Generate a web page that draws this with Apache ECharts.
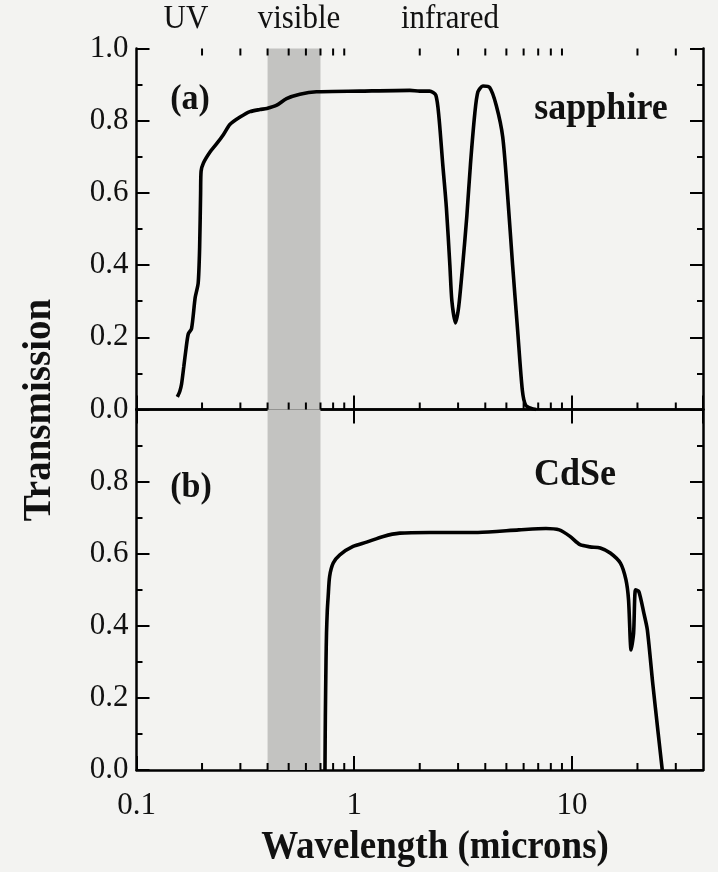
<!DOCTYPE html>
<html>
<head>
<meta charset="utf-8">
<script src="https://cdn.jsdelivr.net/npm/echarts@6/dist/echarts.min.js"></script>
<style>
html,body{margin:0;padding:0;background:#f3f3f1;}
#chart{width:718px;height:872px;}
</style>
</head>
<body>
<div id="chart"></div>
<script>
// ---- data ----
const sapphire = [
  [0.154,0.035],[0.158,0.05],[0.161,0.07],[0.165,0.12],[0.169,0.17],[0.173,0.21],
  [0.179,0.224],[0.186,0.31],[0.192,0.35],[0.195,0.45],[0.197,0.60],[0.198,0.66],
  [0.203,0.683],[0.218,0.714],[0.234,0.737],[0.251,0.762],[0.269,0.79],[0.299,0.81],
  [0.332,0.825],[0.369,0.831],[0.397,0.834],[0.441,0.843],[0.489,0.861],[0.563,0.873],
  [0.671,0.880],[1.06,0.882],[1.8,0.884],[2.0,0.882],[2.22,0.882],[2.37,0.871],
  [2.45,0.81],[2.55,0.68],[2.65,0.56],[2.75,0.40],[2.81,0.30],[2.92,0.24],[3.02,0.285],
  [3.15,0.40],[3.29,0.535],[3.42,0.68],[3.58,0.82],[3.70,0.88],[3.90,0.896],[4.19,0.892],
  [4.49,0.843],[4.81,0.755],[5.07,0.59],[5.34,0.40],[5.63,0.22],[5.92,0.053],[6.13,0.012],
  [6.5,0.003],[6.85,0]
];
const cdse = [
  [0.734,0],[0.737,0.15],[0.742,0.30],[0.746,0.38],[0.752,0.44],[0.759,0.48],[0.771,0.537],
  [0.801,0.574],[0.859,0.597],[0.988,0.62],[1.14,0.632],[1.36,0.648],[1.62,0.657],
  [2.22,0.659],[3.7,0.659],[5.7,0.666],[7.6,0.670],[8.75,0.666],[9.8,0.648],[10.9,0.625],
  [12.1,0.619],[13.5,0.616],[15.0,0.602],[16.7,0.574],[17.7,0.528],[18.2,0.472],[18.7,0.333],
  [19.2,0.38],[19.6,0.5],[20.3,0.495],[21.4,0.435],[22.2,0.389],[23.5,0.241],[24.9,0.102],[26,0]
];
const visibleBand = [0.4, 0.7];
const xMin = 0.1, xMax = 40;
const minorXTicks = [0.2,0.3,0.4,0.5,0.6,0.7,0.8,0.9,2,3,4,5,6,7,8,9,20,30];
const regionLabels = ['UV','visible','infrared'];
const panelLabels = ['(a)','(b)'];
const materialLabels = ['sapphire','CdSe'];
const xTitle = 'Wavelength (microns)';
const yTitle = 'Transmission';

// ---- chart ----
const FONT = '"Liberation Serif","Times New Roman",serif';
const chart = echarts.init(document.getElementById('chart'));
const L = 136.5, R = 15;
const axisLine = {show:true, lineStyle:{color:'#000', width:2.5}};

function xAx(grid, pos, opts){
  return Object.assign({
    type:'log', gridIndex:grid, position:pos, min:xMin, max:xMax, logBase:10,
    axisLine: axisLine,
    axisTick:{show:true, inside:true, length:14, lineStyle:{color:'#000', width:2}},
    axisLabel:{show:false},
    splitLine:{show:false}
  }, opts||{});
}
function yAx(grid, pos, opts){
  return Object.assign({
    type:'value', gridIndex:grid, position:pos, min:0, max:1, interval:0.2,
    axisLine: axisLine,
    axisTick:{show:true, inside:true, length:13, lineStyle:{color:'#000', width:2}},
    minorTick:{show:true, splitNumber:2, length:6, lineStyle:{color:'#000', width:2}},
    axisLabel:{show:false},
    splitLine:{show:false}
  }, opts||{});
}
const yLabel = {show:true, fontFamily:FONT, fontSize:31, color:'#111', margin:8,
  formatter: v => v.toFixed(1)};

function minorTickSeries(xi, yi, both){
  return {
    type:'custom', xAxisIndex:xi, yAxisIndex:yi, silent:true, z:5,
    data: minorXTicks.map(v=>[v]),
    renderItem: function(params, api){
      const p = api.coord([api.value(0), 0]);
      const cs = params.coordSys;
      const children = [{type:'line', shape:{x1:p[0], y1:cs.y+cs.height, x2:p[0], y2:cs.y+cs.height-7},
        style:{stroke:'#000', lineWidth:2}}];
      if (both) children.push({type:'line', shape:{x1:p[0], y1:cs.y, x2:p[0], y2:cs.y+7},
        style:{stroke:'#000', lineWidth:2}});
      return {type:'group', children};
    }
  };
}
const band = {
  silent:true,
  itemStyle:{color:'#c3c3c1'},
  data:[[{xAxis:visibleBand[0]},{xAxis:visibleBand[1]}]]
};

function txt(text, x, y, size, bold, sy, rot){
  return {type:'text', x:x, y:y, rotation:rot||0, scaleY:sy||1, z:100,
    style:{text:text, x:0, y:0, textAlign:'center', textVerticalAlign:'middle',
      fontFamily:FONT, fontSize:size, fontWeight:bold?'bold':'normal', fill:'#111'}};
}

chart.setOption({
  backgroundColor:'#f3f3f1',
  animation:false,
  grid:[
    {left:L, right:R, top:48.5, height:361},
    {left:L, right:R, top:409.5, height:360.5}
  ],
  xAxis:[
    xAx(0,'bottom'),
    xAx(0,'top'),
    xAx(1,'bottom',{axisLabel:{show:true, fontFamily:FONT, fontSize:31, color:'#111', margin:20,
      showMaxLabel:false, formatter: v => (v===0.1?'0.1':String(v))}})
  ],
  yAxis:[
    yAx(0,'left',{axisLabel:yLabel}),
    yAx(0,'right'),
    yAx(1,'left',{axisLabel:Object.assign({}, yLabel, {showMaxLabel:false})}),
    yAx(1,'right')
  ],
  series:[
    {type:'line', name:materialLabels[0], xAxisIndex:0, yAxisIndex:0, data:sapphire,
      showSymbol:false, smooth:0.25, lineStyle:{color:'#000', width:3.6}, z:3, markArea:band},
    {type:'line', name:materialLabels[1], xAxisIndex:2, yAxisIndex:2, data:cdse,
      showSymbol:false, smooth:0.25, lineStyle:{color:'#000', width:3.6}, z:3, markArea:band},
    minorTickSeries(0,0,true),
    minorTickSeries(2,2,false)
  ],
  graphic:[
    txt(regionLabels[0], 186, 19, 31, false, 1.12),
    txt(regionLabels[1], 299, 19, 31, false, 1.12),
    txt(regionLabels[2], 450, 19, 31, false, 1.12),
    txt(panelLabels[0], 190, 100, 34, true, 1.05),
    txt(materialLabels[0], 601, 109, 36, true, 1.05),
    txt(panelLabels[1], 191, 488, 34, true, 1.05),
    txt(materialLabels[1], 575, 475, 36, true, 1.05),
    txt(yTitle, 40, 410, 39, true, 1, Math.PI/2),
    txt(xTitle, 435, 847, 37, true, 1.1)
  ]
});
</script>
</body>
</html>
